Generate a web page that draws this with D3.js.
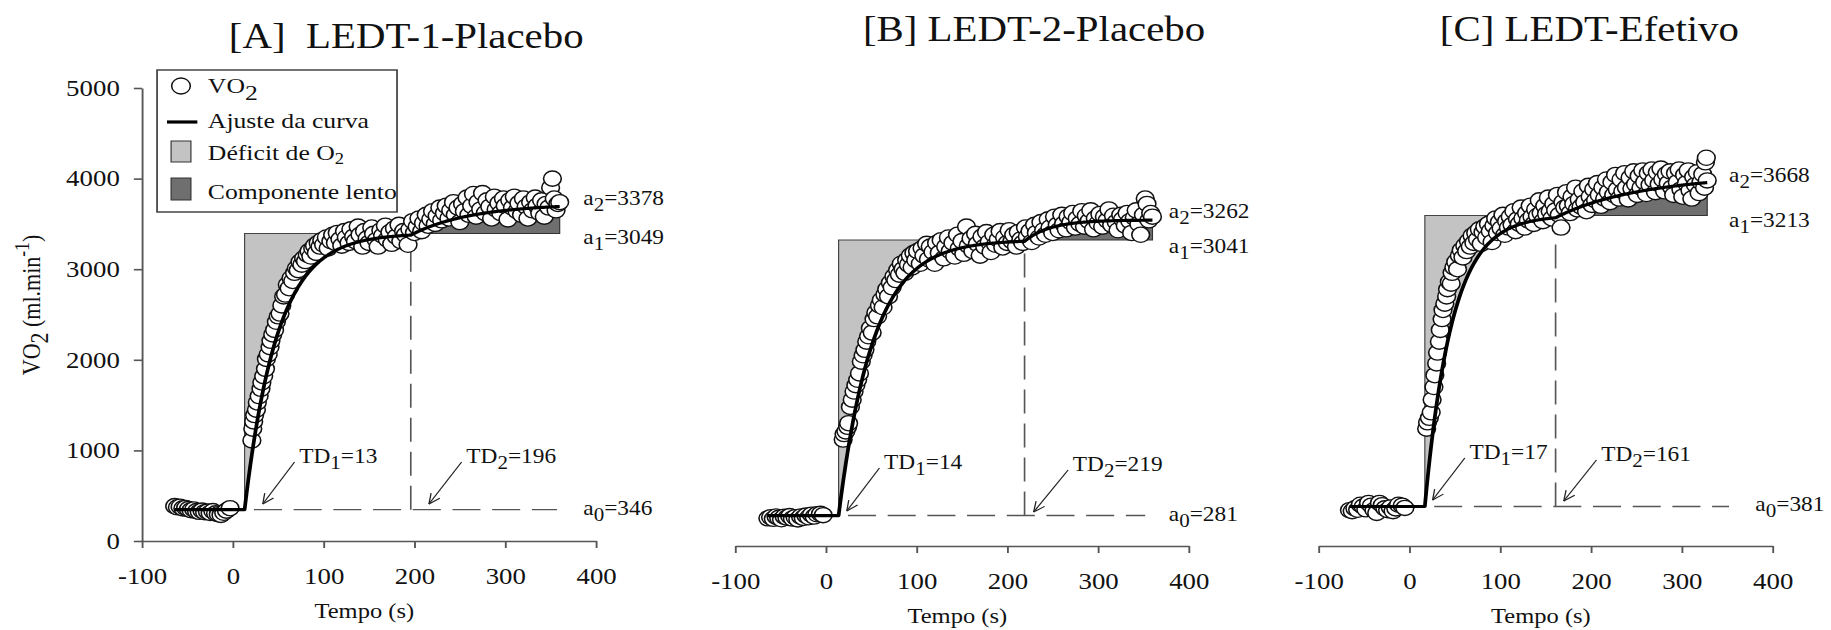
<!DOCTYPE html>
<html>
<head>
<meta charset="utf-8">
<script src="https://cdn.jsdelivr.net/npm/d3@7"></script>
<style>
html, body { margin: 0; padding: 0; background: #fff; }
svg { display: block; }
svg text { font-family: "Liberation Serif", "Times New Roman", serif; fill: #111; }
</style>
</head>
<body>
<svg id="fig" width="1831" height="630" viewBox="0 0 1568 630" preserveAspectRatio="none"></svg>
<script>
// ---- Panel titles and axis ticks ----
const panelTitles = ["[A]  LEDT-1-Placebo", "[B] LEDT-2-Placebo", "[C] LEDT-Efetivo"];
const xTicks = [-100, 0, 100, 200, 300, 400];
const yTicks = [0, 1000, 2000, 3000, 4000, 5000];

// ---- Fitted model parameters (baseline, primary amplitude, total amplitude, delays) ----
const a0 = [346, 281, 381];
const a1 = [3049, 3041, 3213];
const a2 = [3378, 3262, 3668];
const td1 = [13, 14, 17];
const td2 = [196, 219, 161];
const tau1 = [36, 38, 30];
const tau2 = [70, 28, 105];
const tLast = [360, 360, 328];
const tDashEnd = [357, 352, 352];

// ---- Breath-by-breath VO2 (time s, ml/min) ----
const vo2A = [[-64,385],[-61,372],[-58,378],[-55,360],[-52,365],[-49,352],[-46,340],[-43,348],[-40,330],[-37,322],[-34,336],[-31,318],[-28,325],[-25,310],[-22,330],[-19,305],[-16,296],[-13,288],[-10,312],[-7,335],[-3,362],
[21,1110],[22,1240],[23,1320],[24,1390],[26,1450],[27,1530],[29,1600],[31,1680],[32,1750],[34,1820],[36,1900],[37,2010],[39,2060],[41,2140],[42,2210],[44,2280],[46,2330],[48,2420],[50,2480],[52,2510],[54,2600],[56,2700],[58,2720],[60,2830],[62,2790],[64,2900],[66,2870],[68,2960],[70,3010],[72,2990],[74,3080],[76,3050],[78,3120],[80,3090],[82,3160],[84,3200],[86,3140],[88,3230],[90,3260],[92,3180],[94,3290],[96,3250],[98,3320],[100,3270],[103,3350],[105,3230],[108,3310],[110,3380],[113,3290],[115,3400],[118,3330],[120,3260],[123,3420],[125,3350],[128,3290],[130,3440],[133,3360],[135,3310],[138,3470],[140,3380],[143,3250],[145,3420],[148,3340],[150,3290],[153,3460],[155,3390],[158,3320],[160,3250],[163,3430],[165,3370],[168,3480],[170,3330],[173,3410],[175,3280],[178,3450],[180,3360],[183,3490],[185,3310],[188,3420],[190,3380],[193,3270],[195,3440],[198,3530],[200,3400],[203,3470],[205,3560],[208,3420],[210,3510],[213,3600],[215,3480],[218,3550],[220,3640],[223,3500],[225,3590],[228,3680],[230,3540],[233,3620],[235,3700],[238,3560],[240,3650],[243,3740],[245,3600],[248,3680],[250,3520],[253,3720],[255,3640],[258,3790],[260,3600],[263,3700],[265,3830],[268,3580],[270,3740],[273,3660],[275,3840],[278,3620],[280,3760],[283,3690],[285,3560],[288,3800],[290,3660],[293,3730],[295,3620],[298,3780],[300,3700],[303,3550],[305,3760],[308,3680],[310,3800],[313,3640],[315,3730],[318,3600],[320,3780],[323,3690],[325,3560],[328,3740],[330,3650],[333,3790],[335,3700],[338,3620],[340,3760],[343,3580],[345,3720],[348,3680],[350,3900],[352,4000],[354,3780],[356,3650],[358,3720],[360,3740]];

const vo2B = [[-64,250],[-61,262],[-58,245],[-55,270],[-52,255],[-49,240],[-46,268],[-43,258],[-40,275],[-37,248],[-34,262],[-31,238],[-28,270],[-25,255],[-22,280],[-19,262],[-16,290],[-13,270],[-10,295],[-6,300],[-3,285],
[19,1120],[20,1180],[22,1210],[24,1260],[25,1300],[27,1480],[29,1560],[31,1650],[33,1720],[35,1780],[37,1850],[39,1980],[41,2050],[43,2110],[45,2200],[47,2260],[49,2350],[51,2300],[53,2450],[55,2520],[57,2480],[59,2600],[61,2660],[63,2580],[65,2720],[67,2780],[69,2700],[71,2850],[73,2800],[75,2920],[77,2880],[79,2990],[81,2940],[83,3060],[85,3000],[87,2960],[89,3100],[91,3050],[93,3150],[95,3020],[97,3180],[99,3100],[101,3200],[104,3060],[106,3230],[108,3150],[111,3280],[113,3110],[115,3250],[118,3190],[120,3060],[122,3290],[125,3180],[127,3320],[130,3120],[132,3250],[135,3350],[137,3200],[140,3290],[142,3140],[145,3380],[147,3230],[150,3310],[152,3170],[155,3470],[157,3260],[160,3340],[162,3200],[165,3390],[167,3280],[170,3150],[172,3360],[175,3250],[177,3410],[180,3300],[182,3190],[185,3380],[187,3270],[190,3330],[192,3420],[195,3240],[197,3350],[200,3290],[202,3430],[205,3310],[207,3380],[210,3250],[212,3410],[215,3330],[217,3290],[220,3460],[222,3360],[225,3420],[227,3300],[230,3490],[232,3400],[235,3350],[237,3520],[240,3430],[242,3380],[245,3550],[247,3460],[250,3400],[252,3580],[255,3490],[257,3430],[260,3600],[262,3500],[265,3440],[267,3580],[270,3520],[272,3620],[275,3460],[277,3560],[280,3500],[282,3640],[285,3470],[287,3590],[290,3530],[292,3650],[295,3440],[297,3560],[300,3510],[302,3610],[305,3470],[307,3580],[310,3540],[312,3660],[315,3490],[317,3590],[320,3520],[322,3430],[325,3600],[327,3550],[330,3480],[332,3620],[335,3530],[337,3400],[340,3570],[342,3650],[345,3500],[347,3380],[350,3600],[352,3780],[354,3720],[356,3540],[358,3620],[360,3580]];

const vo2C = [[-66,340],[-63,330],[-60,360],[-57,345],[-54,400],[-51,380],[-48,350],[-45,420],[-42,390],[-39,340],[-36,310],[-33,420],[-30,395],[-27,360],[-24,340],[-21,370],[-18,330],[-15,360],[-12,400],[-8,390],[-5,365],
[19,1240],[20,1310],[22,1360],[24,1420],[25,1560],[27,1700],[28,1830],[30,1960],[31,2080],[33,2200],[34,2330],[36,2450],[37,2550],[39,2620],[41,2700],[42,2780],[44,2860],[46,2840],[47,2960],[49,3020],[51,3080],[53,3000],[55,3150],[57,3210],[59,3130],[61,3260],[63,3200],[65,3310],[67,3250],[69,3370],[71,3290],[73,3400],[75,3330],[77,3440],[79,3280],[81,3410],[83,3470],[85,3350],[87,3500],[89,3420],[91,3300],[93,3480],[95,3560],[97,3400],[99,3520],[101,3450],[103,3600],[105,3380],[107,3530],[109,3460],[111,3580],[113,3490],[115,3640],[117,3420],[119,3550],[121,3500],[123,3680],[125,3560],[127,3460],[129,3620],[131,3540],[133,3700],[135,3580],[137,3500],[139,3660],[141,3590],[143,3760],[145,3620],[147,3530],[149,3700],[151,3610],[153,3790],[155,3640],[157,3560],[159,3720],[161,3650],[163,3820],[165,3600],[167,3460],[169,3740],[171,3680],[173,3850],[175,3700],[177,3620],[179,3800],[181,3720],[183,3900],[185,3660],[187,3770],[189,3690],[191,3860],[193,3740],[195,3640],[197,3920],[199,3800],[201,3710],[203,3880],[205,3760],[207,3950],[209,3820],[211,3700],[213,3900],[215,3780],[217,3990],[219,3850],[221,3740],[223,3960],[225,3820],[227,4040],[229,3880],[231,3780],[233,3990],[235,3860],[237,4060],[239,3900],[241,3770],[243,4010],[245,3890],[247,4080],[249,3940],[251,3820],[253,4030],[255,3900],[257,4090],[259,3960],[261,3830],[263,4060],[265,3930],[267,4100],[269,3980],[271,3850],[273,4070],[275,3940],[277,4110],[279,3990],[281,3860],[283,4050],[285,3950],[287,4080],[289,3900],[291,3820],[293,4060],[295,3960],[297,4100],[299,3880],[301,3800],[303,4040],[305,3950],[307,4090],[309,3870],[311,3780],[313,4020],[315,3930],[317,4070],[319,3840],[321,3960],[323,4050],[325,3900],[326,4180],[327,4230],[328,3980]];

const vo2 = [vo2A, vo2B, vo2C];

// ---- Layout ----
const plotX = [[121.6, 510.4], [629.6, 1018], [1129.2, 1518]];
const xAxisY = [541, 546, 546];
const titlePos = [[196, 48], [739, 41], [1233, 41]];
const tempoY = [618, 623, 623];
// arrow tail / head offsets from each delay, in (s, ml/min above a0)
const arrowTD1 = [[55, 526, 20, 62], [45, 525, 9, 50], [44, 535, 8.5, 71]];
const arrowTD2 = [[56, 526, 20, 62], [48, 503, 10, 39], [45, 513, 9, 60]];
// amplitude label placement: time of left edge, pixel offset below each level
const ampLabelT = [[386, 386, 386], [378, 378, 378], [352, 352, 381]];
const ampLabelDy = [[1, 11, 5], [-2, 13, 5], [8, 12, 5]];

const FONT = '"Liberation Serif", "Times New Roman", serif';
const fs = { title: 35, tick: 23, axis: 21, legend: 22, note: 20 };
const axisColor = "#555";
const lightFill = "#c3c3c3", darkFill = "#6f6f6f";

const svg = d3.select("#fig");
const y = d3.scaleLinear().domain([0, 5000]).range([541, 88]);

function fitVal(i, t) {
  if (t < td1[i]) return a0[i];
  let v = a0[i] + a1[i] * (1 - Math.exp(-(t - td1[i]) / tau1[i]));
  if (t >= td2[i]) v += (a2[i] - a1[i]) * (1 - Math.exp(-(t - td2[i]) / tau2[i]));
  return v;
}

// text with a lowered subscript, e.g. a2=3378
function subText(g, x, yb, base, sub, rest, size, subScale, subDy) {
  const t = g.append("text").attr("x", x).attr("y", yb).attr("font-size", size)
    .style("font-family", FONT);
  t.append("tspan").text(base);
  t.append("tspan").text(sub).attr("dy", subDy).attr("font-size", size * subScale);
  if (rest) t.append("tspan").text(rest).attr("dy", -subDy);
  return t;
}

const plainNum = d => String(d);

vo2.forEach((pts, i) => {
  const g = svg.append("g");
  const x = d3.scaleLinear().domain([-100, 400]).range(plotX[i]);
  const L0 = a0[i], L1 = a0[i] + a1[i], tEnd = tLast[i];

  // title
  g.append("text").attr("x", titlePos[i][0]).attr("y", titlePos[i][1])
    .attr("font-size", fs.title).style("font-family", FONT)
    .style("white-space", "pre").text(panelTitles[i]);

  const line = d3.line().x(d => x(d[0])).y(d => y(d[1]));

  // O2 deficit area: between the primary level and the fit, TD1..TD2
  const seg1 = d3.range(td2[i], td1[i], -0.5).map(t => [t, Math.min(fitVal(i, t), L1)]);
  const deficit = [[td1[i], L0], [td1[i], L1], [td2[i], L1]].concat(seg1, [[td1[i], L0]]);
  g.append("path").attr("d", line(deficit) + "Z")
    .attr("fill", lightFill).attr("stroke", "#444").attr("stroke-width", 1);

  // slow component area: above the primary level after TD2
  const seg2 = d3.range(td2[i], tEnd, 0.5).map(t => [t, Math.max(fitVal(i, t), L1)]);
  seg2.push([tEnd, fitVal(i, tEnd)]);
  const slow = [[td2[i], L1]].concat(seg2, [[tEnd, L1]]);
  g.append("path").attr("d", line(slow) + "Z")
    .attr("fill", darkFill).attr("stroke", "#333").attr("stroke-width", 1);

  // dashed baseline and dashed TD2 marker
  g.append("line").attr("x1", x(td1[i])).attr("x2", x(tDashEnd[i]))
    .attr("y1", y(L0)).attr("y2", y(L0))
    .attr("stroke", "#555").attr("stroke-width", 1.4).attr("stroke-dasharray", "24,10")
    .attr("stroke-dashoffset", -8);
  g.append("line").attr("x1", x(td2[i])).attr("x2", x(td2[i]))
    .attr("y1", y(L0)).attr("y2", y(L1))
    .attr("stroke", "#555").attr("stroke-width", 1.4).attr("stroke-dasharray", "24,10");

  // data points
  g.append("g").selectAll("circle").data(pts).join("circle")
    .attr("cx", d => x(d[0])).attr("cy", d => y(d[1])).attr("r", 7.6)
    .attr("fill", "#fff").attr("stroke", "#111").attr("stroke-width", 1.35);

  // fitted curve: flat baseline, corner at TD1, then the two exponential phases
  const tStart = pts[0][0];
  const curveT = [tStart, td1[i]].concat(d3.range(td1[i] + 0.5, tEnd, 0.5), [tEnd]);
  const curve = curveT.map(t => [t, fitVal(i, t)]);
  g.append("path").attr("d", line(curve)).attr("fill", "none")
    .attr("stroke", "#000").attr("stroke-width", 3.2).attr("stroke-linejoin", "round");

  // axes
  const xa = d3.axisBottom(x).tickValues(xTicks).tickSize(7).tickSizeOuter(0).tickPadding(20)
    .tickFormat(plainNum);
  const gx = g.append("g").attr("transform", `translate(0,${xAxisY[i]})`).call(xa);
  gx.selectAll("text").attr("font-size", fs.tick).style("font-family", FONT).style("fill", "#111");
  gx.selectAll("path,line").attr("stroke", axisColor).attr("stroke-width", 1.6);

  if (i === 0) {
    const ya = d3.axisLeft(y).tickValues(yTicks).tickSize(7).tickSizeOuter(0).tickPadding(12)
      .tickFormat(plainNum);
    const gy = g.append("g").attr("transform", `translate(${plotX[0][0]},0)`).call(ya);
    gy.selectAll("text").attr("font-size", fs.tick).style("font-family", FONT).style("fill", "#111");
    gy.selectAll("path,line").attr("stroke", axisColor).attr("stroke-width", 1.6);

    const yl = g.append("text").attr("transform", "translate(34,305) rotate(-90)")
      .attr("text-anchor", "middle").attr("font-size", 22).style("font-family", FONT);
    yl.append("tspan").text("VO");
    yl.append("tspan").text("2").attr("dy", 7);
    yl.append("tspan").text(" (ml.min").attr("dy", -7);
    yl.append("tspan").text("-1").attr("dy", -9).attr("font-size", 22 * 0.8);
    yl.append("tspan").text(")").attr("dy", 9);
  }

  // x axis title
  g.append("text").attr("x", (plotX[i][0] + plotX[i][1]) / 2 - 4).attr("y", tempoY[i])
    .attr("text-anchor", "middle").attr("font-size", fs.axis).style("font-family", FONT)
    .text("Tempo (s)");

  // delay arrows with their labels
  [[td1[i], arrowTD1[i], "1"], [td2[i], arrowTD2[i], "2"]].forEach(([td, a, k]) => {
    const tx = x(td + a[0]), ty = y(L0 + a[1]);
    const hx = x(td + a[2]), hy = y(L0 + a[3]);
    g.append("line").attr("x1", tx).attr("y1", ty).attr("x2", hx).attr("y2", hy)
      .attr("stroke", "#222").attr("stroke-width", 1.1);
    const ang = Math.atan2(ty - hy, tx - hx);
    [0.42, -0.42].forEach(da => {
      g.append("line").attr("x1", hx).attr("y1", hy)
        .attr("x2", hx + 11 * Math.cos(ang + da)).attr("y2", hy + 11 * Math.sin(ang + da))
        .attr("stroke", "#222").attr("stroke-width", 1.1);
    });
    subText(g, tx + 4, ty + 1, "TD", k, "=" + td, fs.note, 0.9, 6);
  });

  // amplitude labels at the right of each level
  const levels = [[a0[i] + a2[i], "2", a2[i]], [L1, "1", a1[i]], [L0, "0", a0[i]]];
  levels.forEach(([lv, k, val], j) => {
    subText(g, x(ampLabelT[i][j]), y(lv) + ampLabelDy[i][j], "a", k, "=" + val, fs.note, 0.9, 6);
  });
});

// ---- Legend (first panel) ----
const lg = svg.append("g");
lg.append("rect").attr("x", 134.5).attr("y", 70).attr("width", 205.5).attr("height", 142)
  .attr("fill", "#fff").attr("stroke", "#444").attr("stroke-width", 1.5);
lg.append("circle").attr("cx", 155).attr("cy", 86).attr("r", 8)
  .attr("fill", "#fff").attr("stroke", "#111").attr("stroke-width", 1.3);
subText(lg, 178, 93, "VO", "2", null, fs.legend, 1, 7);
lg.append("line").attr("x1", 143).attr("x2", 169).attr("y1", 122).attr("y2", 122)
  .attr("stroke", "#000").attr("stroke-width", 3.2);
lg.append("text").attr("x", 178).attr("y", 128).attr("font-size", fs.legend)
  .style("font-family", FONT).text("Ajuste da curva");
lg.append("rect").attr("x", 146.5).attr("y", 141).attr("width", 17).attr("height", 21)
  .attr("fill", lightFill).attr("stroke", "#333").attr("stroke-width", 1);
subText(lg, 178, 160, "Déficit de O", "2", null, fs.legend, 0.72, 4);
lg.append("rect").attr("x", 146.5).attr("y", 178).attr("width", 17).attr("height", 22)
  .attr("fill", darkFill).attr("stroke", "#333").attr("stroke-width", 1);
lg.append("text").attr("x", 178).attr("y", 199).attr("font-size", fs.legend)
  .style("font-family", FONT).text("Componente lento");
</script>
</body>
</html>
